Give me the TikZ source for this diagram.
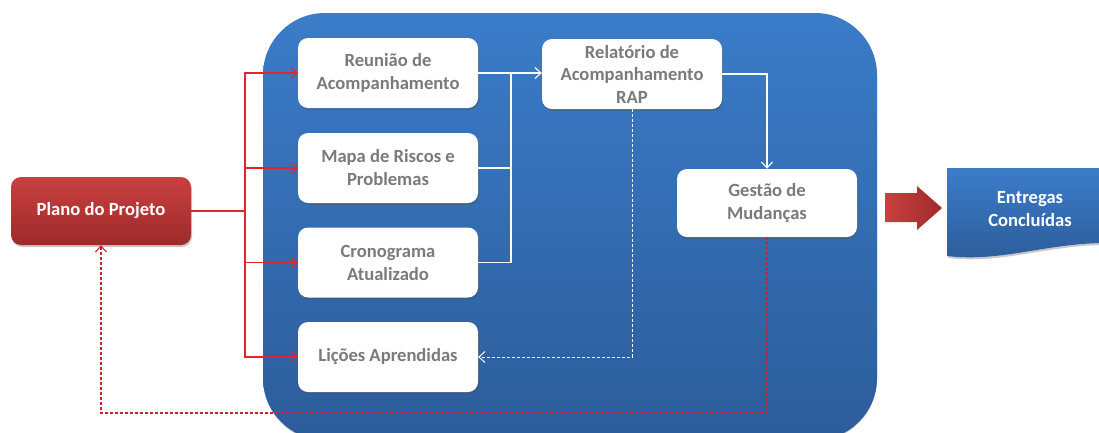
\documentclass[tikz,border=0pt]{standalone}
\usepackage{fontspec}
\setmainfont{Carlito}
\usetikzlibrary{arrows.meta,shadows,positioning}
\definecolor{txtgray}{HTML}{7A7A7A}
\definecolor{redline}{HTML}{E0262B}
\definecolor{reddash}{HTML}{D0202A}
\definecolor{blueTop}{HTML}{3B7CC9}
\definecolor{blueBot}{HTML}{2C5C9A}
\definecolor{redTop}{HTML}{C9403F}
\definecolor{redBot}{HTML}{9E2A2A}
\tikzset{
  wbox/.style={draw=none, fill=white, rounded corners=10pt, minimum width=180pt,
    minimum height=70pt, inner sep=0pt, align=center, text=txtgray,
    font=\fontsize{18.6}{23}\selectfont\bfseries,
    drop shadow={shadow xshift=1pt, shadow yshift=-2pt, opacity=0.35, fill=black!70}},
  rbox/.style={draw=none, rounded corners=10pt, minimum width=180pt,
    minimum height=68pt, inner sep=0pt, align=center, text=white,
    top color=redTop, bottom color=redBot,
    font=\fontsize{18.6}{23}\selectfont\bfseries,
    drop shadow={shadow xshift=1pt, shadow yshift=-2pt, opacity=0.3, fill=black!70}},
  arr/.style={-{Straight Barb[length=6pt,width=11pt]}},
  redconn/.style={draw=redline, line width=1.1pt},
  whiteconn/.style={draw=white, line width=1.1pt},
  shortdash/.style={dash pattern=on 3pt off 2pt},
}
\begin{document}
\begin{tikzpicture}[x=1pt,y=-1pt]
\useasboundingbox (0,0) rectangle (1099,432);
\begin{scope}
\clip (0,0) rectangle (1099,432);
% container
\path[rounded corners=62pt, top color=blueTop, bottom color=blueBot,
  drop shadow={shadow xshift=0pt, shadow yshift=-1pt, opacity=0.25, fill=black}]
  (263,13) rectangle (877,440);
% boxes
\node[wbox] (reu) at (388,73) {Reunião de\\Acompanhamento};
\node[wbox] (mapa) at (388,168) {Mapa de Riscos e\\Problemas};
\node[wbox] (crono) at (388,262.5) {Cronograma\\Atualizado};
\node[wbox] (licoes) at (388,357) {Lições Aprendidas};
\node[wbox, font=\fontsize{18.6}{22.5}\selectfont\bfseries] (rap) at (632,74) {Relatório de\\Acompanhamento\\RAP};
\node[wbox, minimum height=68pt] (gestao) at (767,203) {Gestão de\\Mudanças};
\node[rbox] (plano) at (101,211) {Plano do Projeto};
% red connectors
\coordinate (rj) at (245,211);
\draw[redconn] (plano.east) -- (rj);
\draw[redconn,arr] (rj) |- (reu.west);
\draw[redconn,arr] (rj) |- (mapa.west);
\draw[redconn,arr] (rj) |- (crono.west);
\draw[redconn,arr] (rj) |- (licoes.west);
% white connectors
\coordinate (wj) at (511,73);
\draw[whiteconn,arr] (reu.east) -- (rap.west |- reu.east);
\draw[whiteconn] (mapa.east) -| (wj);
\draw[whiteconn] (crono.east) -| (wj);
\draw[whiteconn,arr] (rap.east) -| (gestao.north);
\draw[whiteconn,shortdash,arr,line width=1pt] (rap.south) |- (licoes.east);
% red dashed feedback
\coordinate (rd) at (101,413);
\draw[draw=reddash,line width=1.1pt,shortdash,arr] (gestao.south) |- (rd) -- (plano.south);
% big red arrow
\path[left color=redTop, right color=redBot]
  (885,193) -- (917,193) -- (917,186) -- (942,208) -- (917,230) -- (917,222) -- (885,222) -- cycle;
% Entregas document shape
\path[top color=blueTop, bottom color=blueBot,
  drop shadow={shadow xshift=1pt, shadow yshift=-2pt, opacity=0.3, fill=black!70}]
  (947,168) -- (1110,168) -- (1110,242) -- (1099,243)
  .. controls (1040,245) and (1000,262) .. (947,256) -- cycle;
\node[text=white, align=center, font=\fontsize{18.6}{23}\selectfont\bfseries] (entregas) at (1030,209) {Entregas\\Concluídas};
\end{scope}
\end{tikzpicture}
\end{document}
